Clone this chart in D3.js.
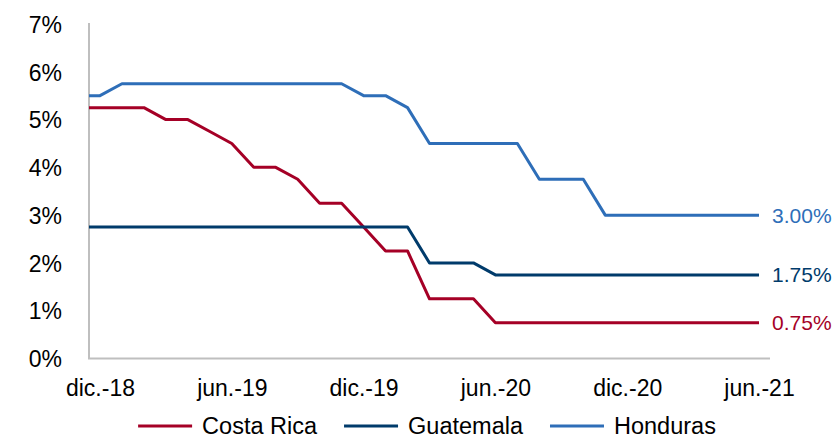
<!DOCTYPE html>
<html>
<head>
<meta charset="utf-8">
<script src="https://cdn.jsdelivr.net/npm/d3@7"></script>
<style>
  html, body { margin: 0; padding: 0; background: #fff; }
  svg { display: block; }
  text { font-family: "Liberation Sans", Arial, sans-serif; }
</style>
</head>
<body>
<svg id="chart" width="835" height="439"></svg>
<script>
// ---- Data (monthly, nov.-18 .. jun.-21; nov.-18 lies just left of the plot and is clipped) ----
const months = ["2018-11","2018-12","2019-01","2019-02","2019-03","2019-04","2019-05","2019-06",
  "2019-07","2019-08","2019-09","2019-10","2019-11","2019-12","2020-01","2020-02","2020-03",
  "2020-04","2020-05","2020-06","2020-07","2020-08","2020-09","2020-10","2020-11","2020-12",
  "2021-01","2021-02","2021-03","2021-04","2021-05","2021-06"];
const costaRica = [5.25,5.25,5.25,5.25,5.0,5.0,4.75,4.5,4.0,4.0,3.75,3.25,3.25,2.75,2.25,2.25,
  1.25,1.25,1.25,0.75,0.75,0.75,0.75,0.75,0.75,0.75,0.75,0.75,0.75,0.75,0.75,0.75];
const guatemala = [2.75,2.75,2.75,2.75,2.75,2.75,2.75,2.75,2.75,2.75,2.75,2.75,2.75,2.75,2.75,2.75,
  2.0,2.0,2.0,1.75,1.75,1.75,1.75,1.75,1.75,1.75,1.75,1.75,1.75,1.75,1.75,1.75];
const honduras = [5.5,5.5,5.75,5.75,5.75,5.75,5.75,5.75,5.75,5.75,5.75,5.75,5.75,5.5,5.5,5.25,
  4.5,4.5,4.5,4.5,4.5,3.75,3.75,3.75,3.0,3.0,3.0,3.0,3.0,3.0,3.0,3.0];
const seriesNames = ["Costa Rica","Guatemala","Honduras"];
const seriesColors = ["#A50026","#003B6B","#2E6EB8"];
const xTickMonths = ["2018-12","2019-06","2019-12","2020-06","2020-12","2021-06"];
const xTickLabels = ["dic.-18","jun.-19","dic.-19","jun.-20","dic.-20","jun.-21"];
const yTicks = [0,1,2,3,4,5,6,7];

(function draw() {
  const svg = d3.select("#chart");
  const pL = 89, pR = 770, pT = 24, pB = 358.5;
  const firstIdx = months.indexOf("2018-12");
  const lastIdx = months.indexOf("2021-06");
  const x = d3.scaleLinear().domain([firstIdx - 0.5, lastIdx + 0.5]).range([pL, pR]);
  const y = d3.scaleLinear().domain([0, 7]).range([pB, pT]);
  const axisColor = "#BFBFBF";
  const fontSize = 23;

  svg.append("defs").append("clipPath").attr("id", "plotClip")
    .append("rect").attr("x", pL).attr("y", 0).attr("width", pR - pL).attr("height", 439);

  svg.append("line").attr("x1", pL).attr("x2", pL).attr("y1", y(7) - 1).attr("y2", pB)
    .attr("stroke", axisColor).attr("stroke-width", 2);
  svg.append("line").attr("x1", pL - 1).attr("x2", pR).attr("y1", pB).attr("y2", pB)
    .attr("stroke", axisColor).attr("stroke-width", 2);

  const yAxis = d3.axisLeft(y).tickValues(yTicks).tickFormat(d => d + "%").tickSize(0).tickPadding(0);
  const gy = svg.append("g").attr("transform", `translate(${pL - 27},0)`).call(yAxis);
  gy.select(".domain").remove();
  gy.selectAll("text").attr("font-size", fontSize).attr("fill", "#000")
    .attr("font-family", "Liberation Sans, Arial, sans-serif")
    .attr("dy", (0.358 * fontSize) + "px");

  const xAxis = d3.axisBottom(x).tickValues(xTickMonths.map(m => months.indexOf(m)))
    .tickFormat((d, i) => xTickLabels[i]).tickSize(0).tickPadding(0);
  const gx = svg.append("g").attr("transform", `translate(0,${pB})`).call(xAxis);
  gx.select(".domain").remove();
  gx.selectAll("text").attr("font-size", fontSize).attr("fill", "#000")
    .attr("font-family", "Liberation Sans, Arial, sans-serif")
    .attr("dy", null).attr("y", 37.5);

  const allSeries = [costaRica, guatemala, honduras];
  const line = d3.line().x((d, i) => x(i)).y(d => y(d));
  const plot = svg.append("g").attr("clip-path", "url(#plotClip)");
  allSeries.forEach((s, k) => {
    plot.append("path").datum(s).attr("d", line).attr("fill", "none")
      .attr("stroke", seriesColors[k]).attr("stroke-width", 3).attr("stroke-linejoin", "round");
  });

  const labelSize = 21;
  allSeries.forEach((s, k) => {
    const v = s[lastIdx];
    svg.append("text").attr("x", x(lastIdx) + 13).attr("y", y(v) + 0.358 * labelSize)
      .attr("font-size", labelSize).attr("fill", seriesColors[k])
      .text(v.toFixed(2) + "%");
  });

  const legend = svg.append("g");
  const legY = 426, symW = 54, symGap = 10, itemGap = 27, legSize = 23.5;
  let cursor = 0;
  seriesNames.forEach((name, k) => {
    const g = legend.append("g");
    g.append("line").attr("x1", 0).attr("x2", symW).attr("y1", 0).attr("y2", 0)
      .attr("stroke", seriesColors[k]).attr("stroke-width", 3);
    const t = g.append("text").attr("x", symW + symGap).attr("y", 0.33 * legSize)
      .attr("font-size", legSize).attr("fill", "#000").text(name);
    const w = symW + symGap + t.node().getComputedTextLength();
    g.attr("transform", `translate(${cursor},0)`);
    cursor += w + itemGap;
  });
  const totalW = cursor - itemGap;
  legend.attr("transform", `translate(${427 - totalW / 2},${legY})`);
})();
</script>
</body>
</html>
